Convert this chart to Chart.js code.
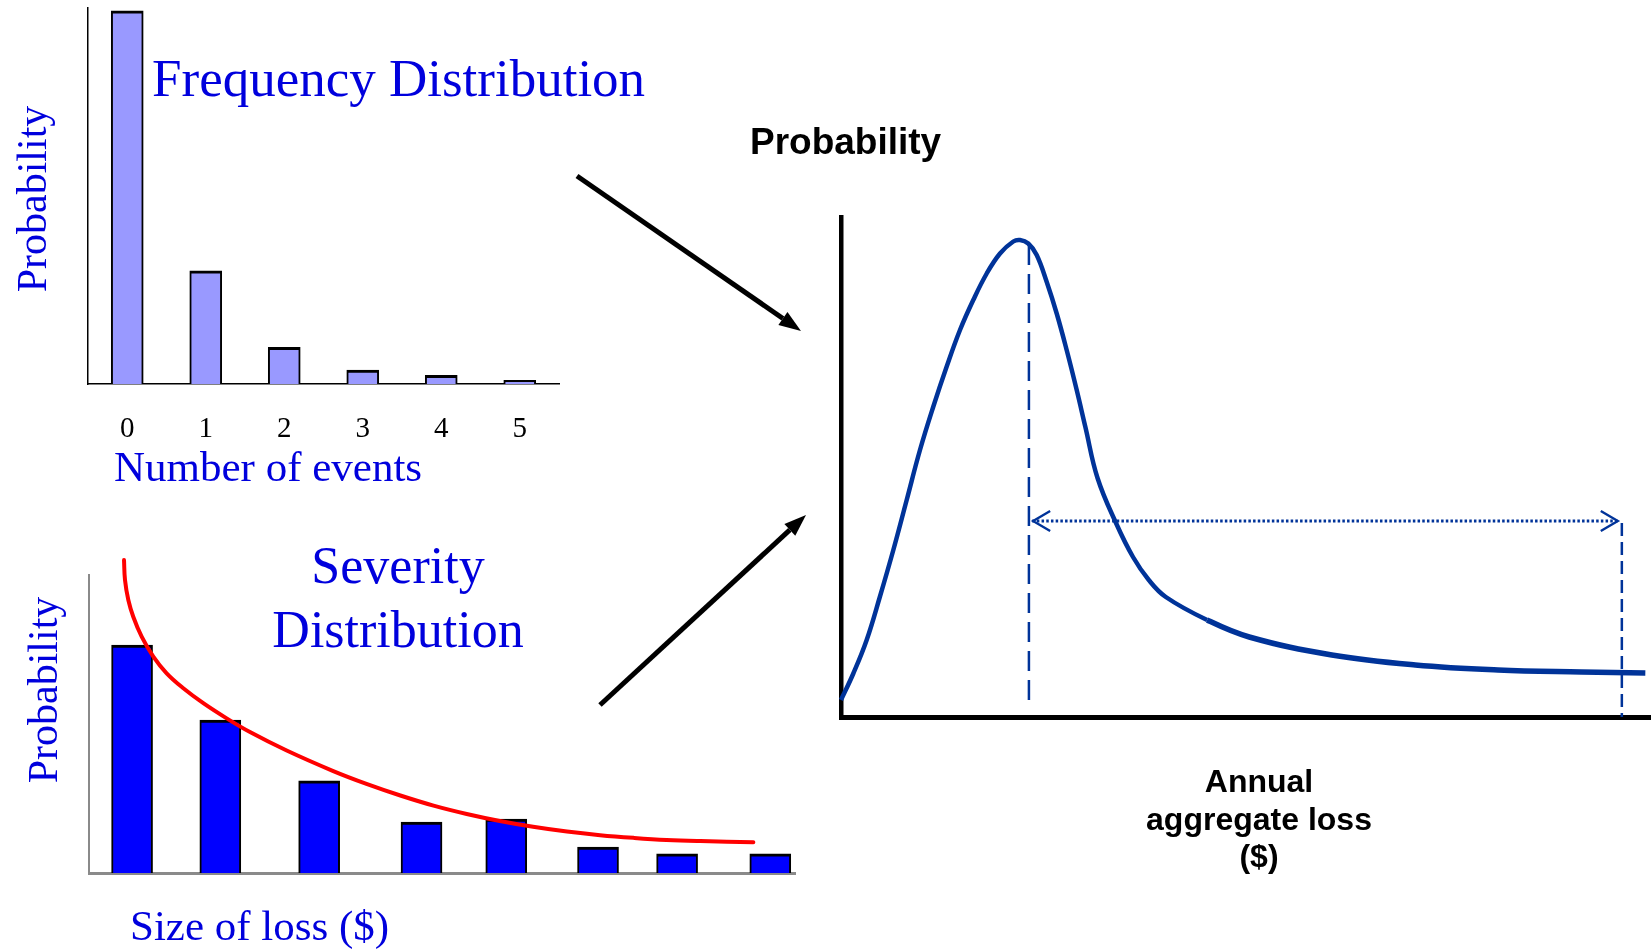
<!DOCTYPE html>
<html>
<head>
<meta charset="utf-8">
<script src="https://cdn.jsdelivr.net/npm/chart.js@4.4.0/dist/chart.umd.min.js"></script>
<style>
body { margin: 0; background: #fff; }
#page { position: relative; width: 1651px; height: 951px; overflow: hidden; background: #fff; }
canvas, svg { position: absolute; }
.lbl { position: absolute; white-space: nowrap; line-height: 1; }
.serif { font-family: "Liberation Serif", "Times New Roman", serif; color: #0000dd; }
.sans { font-family: "Liberation Sans", Arial, sans-serif; font-weight: bold; color: #000; }
.rot { transform: translate(-50%, -50%) rotate(-90deg); }
</style>
</head>
<body>
<div id="page">
  <canvas id="freqChart" width="600" height="480" style="left:0;top:0"></canvas>
  <canvas id="sevChart" width="820" height="360" style="left:0;top:540px"></canvas>
  <canvas id="aggChart" width="891" height="560" style="left:760px;top:180px"></canvas>
  <svg id="arrows" width="1651" height="951" style="left:0;top:0"></svg>

  <div class="lbl serif" style="left:152px;top:52px;font-size:53px">Frequency Distribution</div>
  <div class="lbl serif rot" style="left:32px;top:199px;font-size:42px">Probability</div>
  <div class="lbl serif" style="left:114px;top:445px;font-size:43px">Number of events</div>

  <div class="lbl serif" style="left:398px;top:534px;font-size:52px;line-height:64px;text-align:center;transform:translateX(-50%)">Severity<br>Distribution</div>
  <div class="lbl serif rot" style="left:43px;top:690px;font-size:42px">Probability</div>
  <div class="lbl serif" style="left:130px;top:904px;font-size:43px">Size of loss ($)</div>

  <div class="lbl sans" style="left:750px;top:123px;font-size:37px">Probability</div>
  <div class="lbl sans" style="left:1259px;top:763px;font-size:32px;line-height:37.5px;text-align:center;transform:translateX(-50%)">Annual<br>aggregate loss<br>($)</div>
</div>

<script>
// frequency distribution: probability of n events
var freqLabels = ['0', '1', '2', '3', '4', '5'];
var freqProb = [0.680, 0.206, 0.067, 0.0255, 0.0159, 0.0065];
var freqMax = 0.685;

// severity distribution: bars and fitted curve
var sevLoss = [6.1, 18.6, 32.6, 47.1, 59.1, 72.1, 83.3, 96.5];
var sevProb = [76.5, 51.3, 30.9, 17.1, 18.1, 8.7, 6.4, 6.4];
var sevCurveX = [4.96, 5.1, 5.57, 6.27, 7.46, 9.11, 11.0, 13.36, 16.19, 19.5, 22.8, 28.0, 34.6, 39.3, 44.1, 48.8, 53.5, 58.2, 62.9, 67.7, 72.4, 77.1, 81.8, 86.6, 94.1];
var sevCurveY = [105.0, 98.3, 91.6, 86.0, 79.3, 72.6, 67.0, 62.0, 57.0, 51.9, 47.3, 41.1, 34.2, 29.9, 26.0, 22.6, 19.8, 17.45, 15.5, 13.9, 12.7, 11.8, 11.1, 10.7, 10.3];

// annual aggregate loss distribution
var aggLoss = [0, 1.52, 3.17, 4.81, 6.46, 8.11, 9.75, 11.4, 13.05, 14.69, 16.33, 17.99, 19.63, 21.27, 22.1, 23.12, 24.16, 25.4, 26.63, 27.86, 29.1, 30.17, 31.67, 33.95, 36.05, 38, 40.1, 45.2, 50.4, 60.6, 70.9, 81.1, 91.4, 99.3];
var aggProb = [3.4, 8.7, 15.4, 24.1, 33.4, 43.4, 53.4, 62.1, 70.1, 77.4, 83.4, 88.7, 92.7, 95.1, 95.4, 94.7, 92.4, 87.0, 80.7, 73.4, 65.4, 58.0, 47.8, 38.8, 32.0, 27.4, 24.0, 19.4, 16.0, 12.4, 10.4, 9.4, 9.0, 8.8];
var meanLoss = 23.2, meanTop = 94.4, meanBottom = 2;
var tailLoss = 96.4, tailTop = 38.8;
var rangeY = 39.2, rangeFrom = 23.6, rangeTo = 95.9;

var aggBlue = '#003399';

function pts(xs, ys) {
    return xs.map(function (x, i) { return { x: x, y: ys[i] }; });
}

function noAxis(s) { s.width = 0; }
function noHeight(s) { s.height = 0; }

var baseOpts = {
    responsive: false,
    animation: false,
    events: [],
    plugins: { legend: { display: false }, tooltip: { enabled: false } }
};

// frequency chart
new Chart(document.getElementById('freqChart'), {
    type: 'bar',
    data: {
        labels: freqLabels,
        datasets: [{
            data: freqProb,
            backgroundColor: '#9999ff',
            borderColor: '#000',
            borderWidth: { top: 3, left: 2, right: 2, bottom: 0 },
            borderSkipped: 'bottom',
            barThickness: 32
        }]
    },
    options: Object.assign({}, baseOpts, {
        layout: { padding: { left: 88, top: 8, right: 41, bottom: 36 } },
        scales: {
            x: {
                grid: { display: false, drawTicks: false },
                border: { color: '#000', width: 1.5 },
                ticks: { color: '#000', padding: 28, font: { family: 'Liberation Serif', size: 29 } },
                afterFit: function (s) { s.height = 60; }
            },
            y: {
                min: 0, max: freqMax,
                grid: { display: false, drawTicks: false },
                ticks: { display: false },
                border: { color: '#000', width: 1.5 },
                afterFit: noAxis
            }
        }
    })
});

// severity chart
new Chart(document.getElementById('sevChart'), {
    type: 'bar',
    data: {
        datasets: [{
            type: 'line',
            data: pts(sevCurveX, sevCurveY),
            borderColor: '#ff0000',
            borderWidth: 4,
            borderCapStyle: 'round',
            pointRadius: 0,
            tension: 0.4,
            clip: false,
            order: 0
        }, {
            data: pts(sevLoss, sevProb),
            backgroundColor: '#0000ff',
            borderColor: '#000',
            borderWidth: { top: 3, left: 2, right: 2, bottom: 0 },
            borderSkipped: 'bottom',
            barThickness: 41,
            order: 1
        }]
    },
    options: Object.assign({}, baseOpts, {
        layout: { padding: { left: 89, top: 35, right: 25, bottom: 27 } },
        scales: {
            x: {
                type: 'linear', min: 0, max: 100, offset: false,
                grid: { display: false, drawTicks: false },
                ticks: { display: false },
                border: { color: '#8a8a8a', width: 3 },
                afterFit: noHeight
            },
            y: {
                min: 0, max: 100,
                grid: { display: false, drawTicks: false },
                ticks: { display: false },
                border: { color: '#8a8a8a', width: 2 },
                afterFit: noAxis
            }
        }
    })
});

// aggregate chart
var rangeArrowHeads = {
    id: 'rangeArrowHeads',
    afterDatasetsDraw: function (chart) {
        var xs = chart.scales.x, ys = chart.scales.y, c = chart.ctx;
        var y = ys.getPixelForValue(rangeY);
        var x1 = xs.getPixelForValue(rangeFrom) + 1, x2 = xs.getPixelForValue(rangeTo);
        c.save();
        c.strokeStyle = aggBlue;
        c.lineWidth = 2.4;
        c.beginPath();
        c.moveTo(x1 + 17, y - 10); c.lineTo(x1, y); c.lineTo(x1 + 17, y + 10);
        c.moveTo(x2 - 17, y - 10); c.lineTo(x2, y); c.lineTo(x2 - 17, y + 10);
        c.stroke();
        c.restore();
    }
};

new Chart(document.getElementById('aggChart'), {
    type: 'line',
    data: {
        datasets: [{
            data: pts(aggLoss, aggProb),
            borderColor: aggBlue,
            borderWidth: 4.5,
            pointRadius: 0,
            tension: 0.4,
            segment: { borderWidth: function (ctx) { return ctx.p0DataIndex >= 27 ? 5.5 : 4.5; } },
            clip: false
        }, {
            data: [{ x: meanLoss, y: meanTop }, { x: meanLoss, y: meanBottom }],
            borderColor: aggBlue, borderWidth: 2.5, borderDash: [20, 9], pointRadius: 0
        }, {
            data: [{ x: tailLoss, y: tailTop }, { x: tailLoss, y: 0 }],
            borderColor: aggBlue, borderWidth: 2.5, borderDash: [13, 6], pointRadius: 0
        }, {
            data: [{ x: rangeFrom, y: rangeY }, { x: rangeTo, y: rangeY }],
            borderColor: aggBlue, borderWidth: 2.8, borderDash: [2.5, 2.2], pointRadius: 0
        }]
    },
    options: Object.assign({}, baseOpts, {
        layout: { padding: { left: 81, top: 37, right: 0, bottom: 23 } },
        scales: {
            x: {
                type: 'linear', min: 0, max: 100,
                grid: { display: false, drawTicks: false },
                ticks: { display: false },
                border: { color: '#000', width: 5 },
                afterFit: noHeight
            },
            y: {
                min: 0, max: 100,
                grid: { display: false, drawTicks: false },
                ticks: { display: false },
                border: { color: '#000', width: 4.5 },
                afterFit: noAxis
            }
        }
    }),
    plugins: [rangeArrowHeads]
});

// black arrows from the two inputs to the aggregate chart
var arrowLines = [[577, 176, 801, 331], [600, 705, 806, 515]];
var svg = document.getElementById('arrows');
arrowLines.forEach(function (a) {
    var dx = a[2] - a[0], dy = a[3] - a[1];
    var len = Math.sqrt(dx * dx + dy * dy);
    var ux = dx / len, uy = dy / len;
    var bx = a[2] - ux * 22, by = a[3] - uy * 22;
    var line = document.createElementNS('http://www.w3.org/2000/svg', 'line');
    line.setAttribute('x1', a[0]); line.setAttribute('y1', a[1]);
    line.setAttribute('x2', bx); line.setAttribute('y2', by);
    line.setAttribute('stroke', '#000'); line.setAttribute('stroke-width', 5);
    svg.appendChild(line);
    var head = document.createElementNS('http://www.w3.org/2000/svg', 'polygon');
    head.setAttribute('points', a[2] + ',' + a[3] + ' ' + (bx - uy * 8) + ',' + (by + ux * 8) + ' ' + (bx + uy * 8) + ',' + (by - ux * 8));
    head.setAttribute('fill', '#000');
    svg.appendChild(head);
});
</script>
</body>
</html>
